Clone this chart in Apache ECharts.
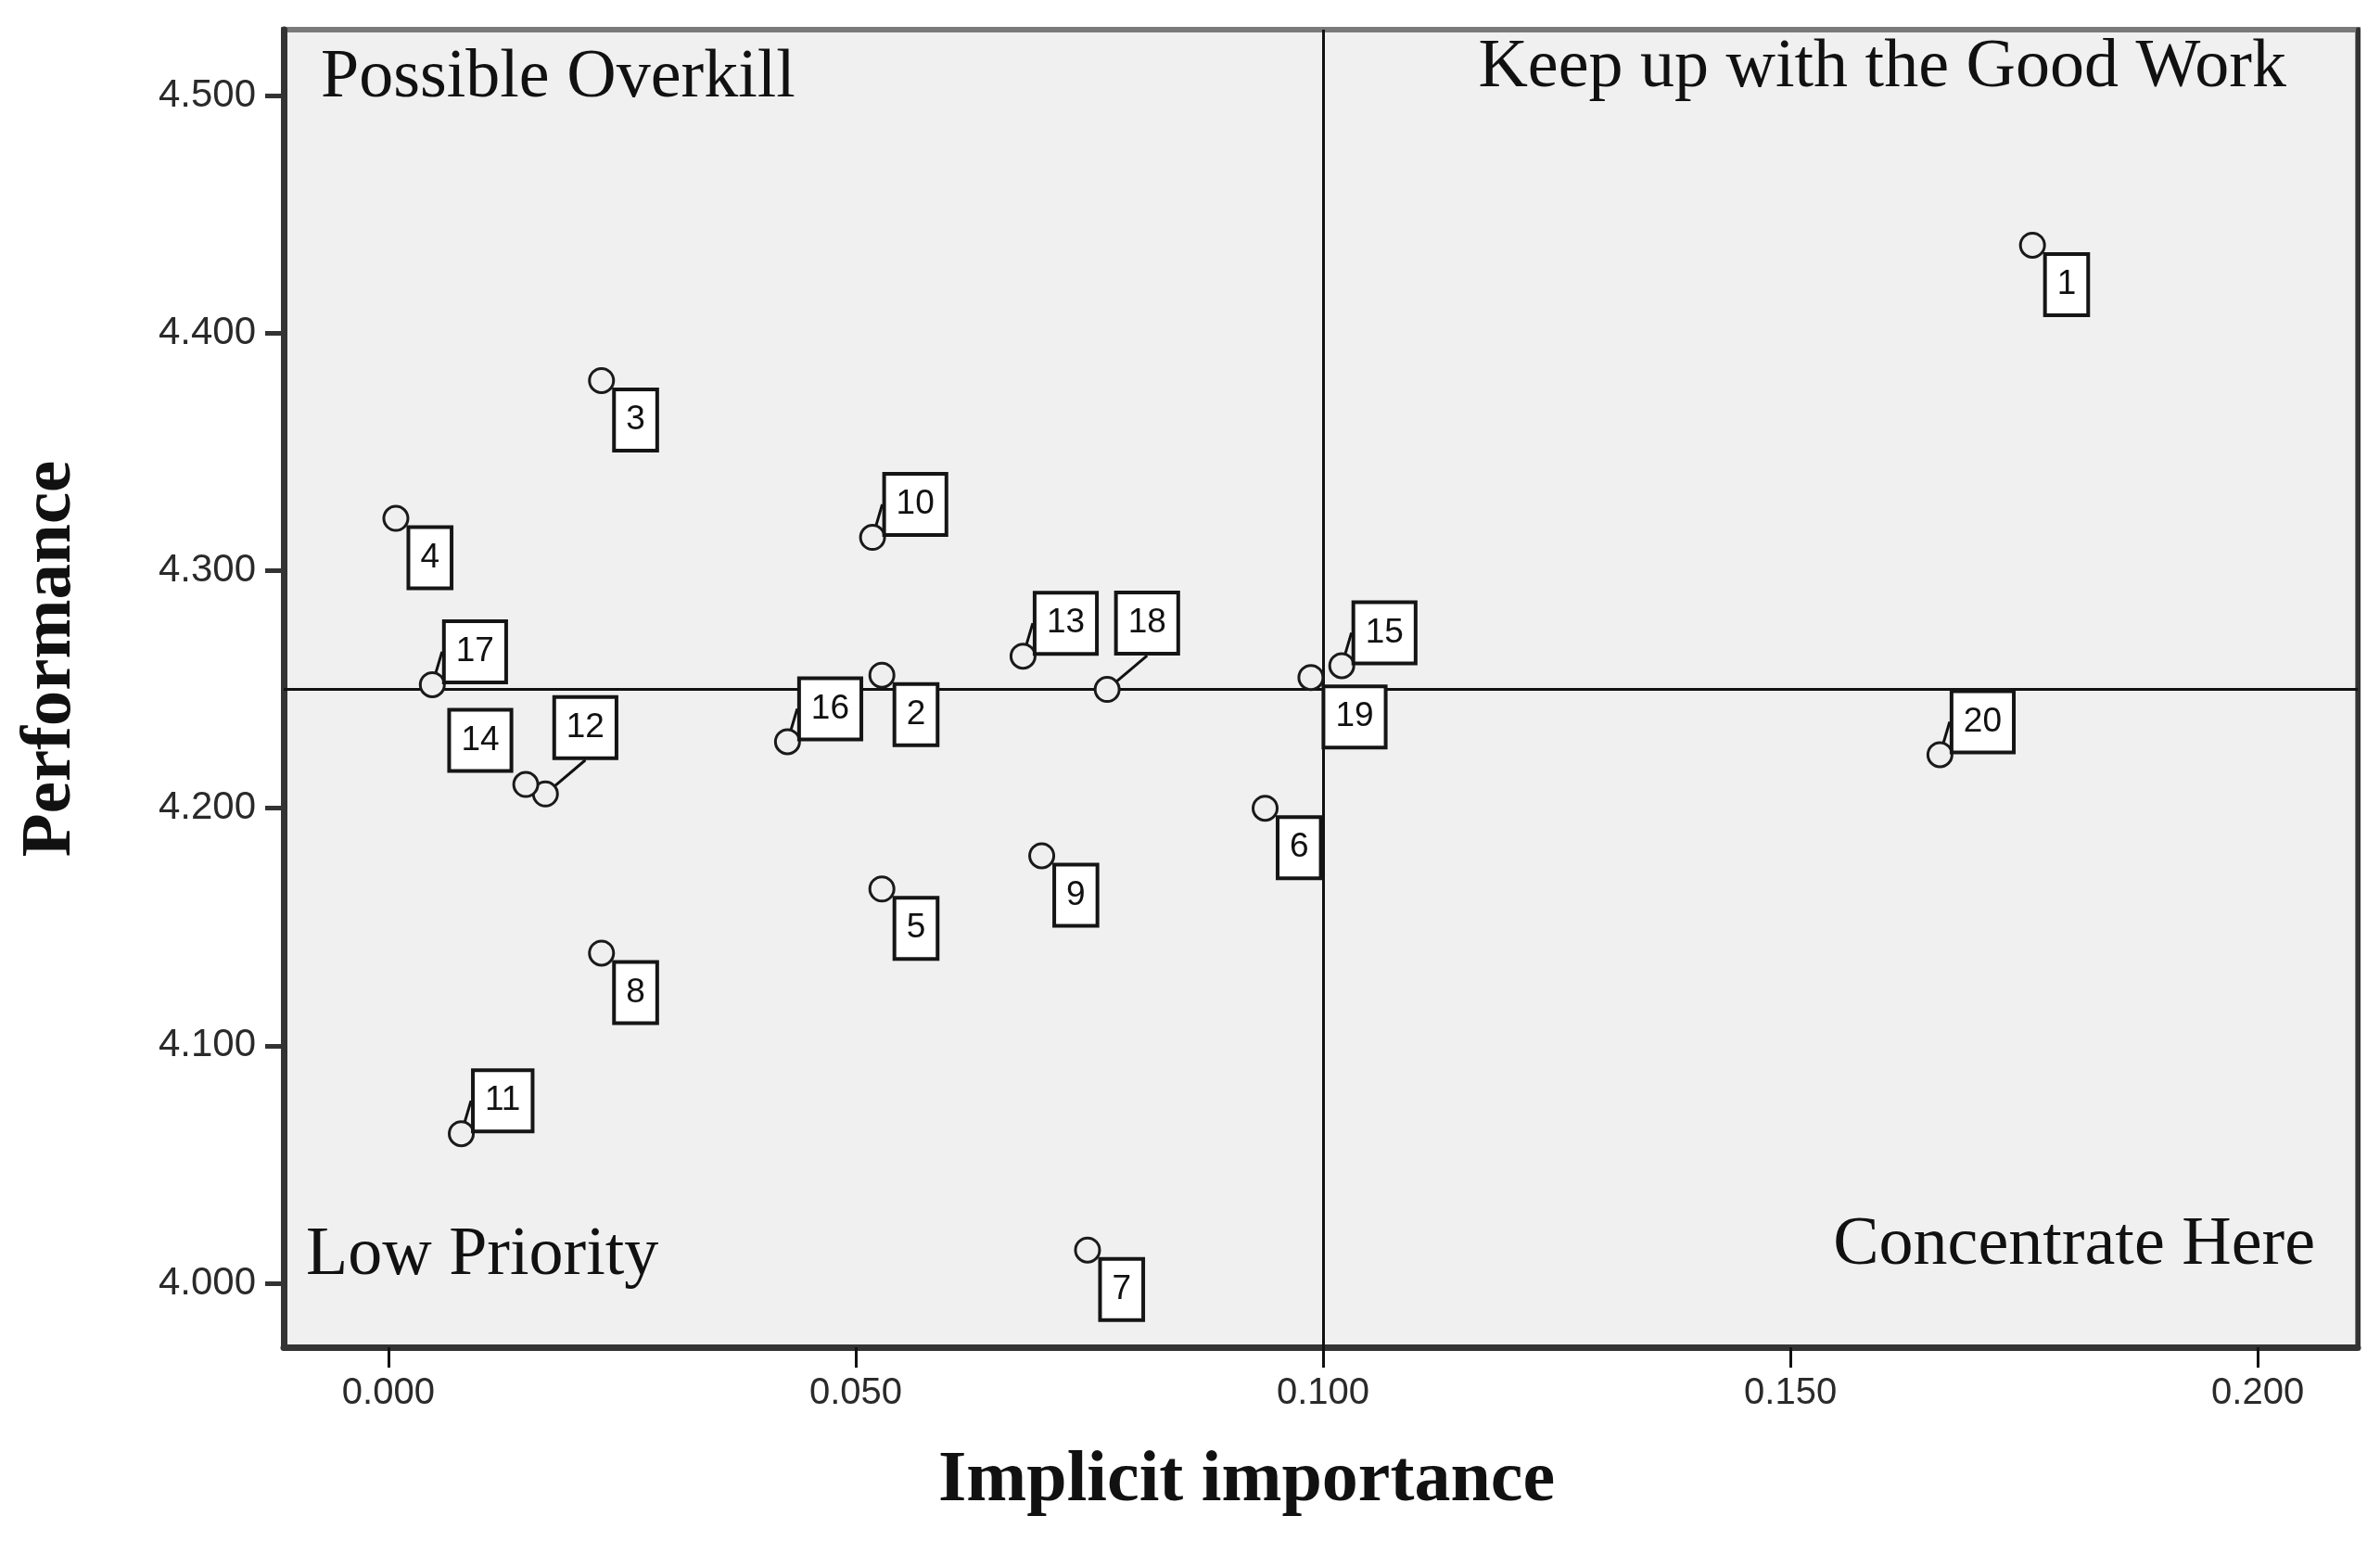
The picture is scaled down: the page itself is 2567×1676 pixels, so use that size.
<!DOCTYPE html>
<html>
<head>
<meta charset="utf-8">
<script src="https://cdn.jsdelivr.net/npm/echarts@6/dist/echarts.min.js"></script>
<style>
html,body{margin:0;padding:0;background:#fff;}
#chart{width:2567px;height:1676px;}
</style>
</head>
<body>
<div id="chart"></div>
<script>
// ---- data ----
const itemIds = ['1','2','3','4','5','6','7','8','9','10','11','12','13','14','15','16','17','18','19','20'];
const importance = [0.1759, 0.0528, 0.0228, 0.0008, 0.0528, 0.0938, 0.0748, 0.0228, 0.0699, 0.0518,
                    0.0078, 0.0168, 0.0679, 0.0147, 0.1020, 0.0427, 0.0047, 0.0769, 0.0987, 0.1660];
const performance = [4.437, 4.256, 4.380, 4.322, 4.166, 4.200, 4.014, 4.139, 4.180, 4.314,
                     4.063, 4.206, 4.264, 4.210, 4.260, 4.228, 4.252, 4.250, 4.255, 4.2225];
const xTicks = [0, 0.05, 0.10, 0.15, 0.20];
const yTicks = [4.0, 4.1, 4.2, 4.3, 4.4, 4.5];
const xCut = 0.100;
const yCut = 4.250;
const quadrantNames = ['Possible Overkill', 'Keep up with the Good Work', 'Low Priority', 'Concentrate Here'];

// label placement relative to the point (style, not data)
const labelSide = ['br','br','br','br','br','br','br','br','br','tr',
                   'tr','trh','tr','tl','tr','tr','tr','trh','br','tr'];
const SYM = 26;
const placement = {
  br:  {pos:[SYM/2+17, SYM/2+13], align:'left',  va:'top',    line:false},
  tr:  {pos:[SYM/2+16, SYM/2-3],  align:'left',  va:'bottom', line:true},
  trh: {pos:[SYM/2+13, SYM/2-39], align:'left',  va:'bottom', line:true},
  tl:  {pos:[SYM/2-16, SYM/2-15], align:'right', va:'bottom', line:false}
};

const seriesData = itemIds.map((id, i) => {
  const p = placement[labelSide[i]];
  return {
    name: id,
    value: [importance[i], performance[i]],
    label: {position: p.pos, align: p.align, verticalAlign: p.va},
    labelLine: {show: p.line}
  };
});

const chart = echarts.init(document.getElementById('chart'), null, {renderer: 'canvas'});
const serif = '"Liberation Serif", "Times New Roman", serif';
const sans = '"Liberation Sans", Arial, sans-serif';

const option = {
  backgroundColor: '#ffffff',
  animation: false,
  grid: {
    left: 306, top: 32, right: 24, bottom: 223,
    show: true, backgroundColor: '#f0f0f0', borderColor: '#7a7a7a', borderWidth: 6
  },
  xAxis: {
    type: 'value',
    min: -0.0112, max: 0.2107,
    name: 'Implicit importance',
    nameLocation: 'middle',
    nameGap: 106,
    nameTextStyle: {fontFamily: serif, fontWeight: 'bold', fontSize: 78, color: '#111', padding: [0, 160, 0, 0]},
    axisLine: {show: true, onZero: false, lineStyle: {color: '#333', width: 7}},
    axisTick: {show: true, length: 22, customValues: xTicks, lineStyle: {color: '#111', width: 3}},
    axisLabel: {customValues: xTicks, margin: 30, fontFamily: sans, fontSize: 40, color: '#2a2a2a',
                formatter: v => v.toFixed(3)},
    splitLine: {show: false}
  },
  yAxis: [{
    type: 'value',
    min: 3.9731, max: 4.5277,
    name: 'Performance',
    nameLocation: 'middle',
    nameGap: 212,
    nameTextStyle: {fontFamily: serif, fontWeight: 'bold', fontSize: 77, color: '#111', padding: [0, 0, 0, 64]},
    axisLine: {show: true, onZero: false, lineStyle: {color: '#333', width: 7}},
    axisTick: {show: true, length: 20, customValues: yTicks, lineStyle: {color: '#333', width: 5}},
    axisLabel: {customValues: yTicks, margin: 30, fontFamily: sans, fontSize: 42, color: '#2a2a2a',
                formatter: v => v.toFixed(3)},
    splitLine: {show: false}
  }, {
    type: 'value', position: 'right',
    min: 3.9731, max: 4.5277,
    axisLine: {show: true, onZero: false, lineStyle: {color: '#333', width: 5}},
    axisTick: {show: false}, axisLabel: {show: false}, splitLine: {show: false}
  }],
  series: [{
    type: 'scatter',
    yAxisIndex: 0,
    symbol: 'circle',
    symbolSize: SYM,
    itemStyle: {color: '#efefef', borderColor: '#1a1a1a', borderWidth: 3, opacity: 1},
    data: seriesData,
    label: {
      show: true,
      formatter: p => p.name,
      fontFamily: sans, fontSize: 37, lineHeight: 38, color: '#111',
      backgroundColor: '#ffffff', borderColor: '#151515', borderWidth: 4,
      padding: [12, 11, 12, 11]
    },
    labelLine: {show: true, length2: 0, lineStyle: {color: '#111', width: 3}},
    markLine: {
      silent: true, symbol: 'none', animation: false,
      label: {show: false},
      lineStyle: {color: '#111', width: 3, type: 'solid'},
      data: [{xAxis: xCut}, {yAxis: yCut}]
    },
    z: 5
  }],
  graphic: [
    {type: 'text', left: 346, top: 48, silent: true,
     style: {text: quadrantNames[0], font: '74px ' + serif, fill: '#111'}},
    {type: 'text', right: 2567 - 2466, top: 37, silent: true,
     style: {text: quadrantNames[1], font: '74px ' + serif, fill: '#111'}},
    {type: 'text', left: 330, top: 1318, silent: true,
     style: {text: quadrantNames[2], font: '74px ' + serif, fill: '#111'}},
    {type: 'text', right: 2567 - 2497, top: 1307, silent: true,
     style: {text: quadrantNames[3], font: '74px ' + serif, fill: '#111'}}
  ]
};
chart.setOption(option);
</script>
</body>
</html>
